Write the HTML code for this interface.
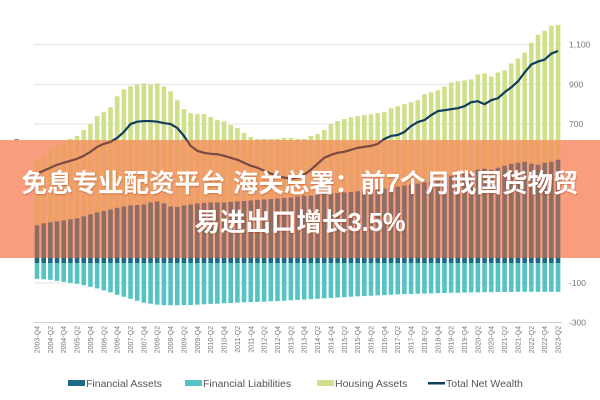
<!DOCTYPE html>
<html><head><meta charset="utf-8"><style>
html,body{margin:0;padding:0;background:#fff;width:600px;height:400px;overflow:hidden}
svg{display:block;font-family:"Liberation Sans","Noto Sans CJK SC",sans-serif}
</style></head><body>
<svg id="chart" width="600" height="400" viewBox="0 0 600 400">
<defs><clipPath id="bandClip"><rect x="0" y="140" width="600" height="118"/></clipPath>
<filter id="sh" x="-5%" y="-20%" width="110%" height="140%"><feDropShadow dx="0.5" dy="1" stdDeviation="0.8" flood-color="#a04020" flood-opacity="0.5"/></filter></defs>
</svg>
<script>
const quarters=[];for(let y=2003,q=4;quarters.length<79;){quarters.push(y+'-Q'+q);q++;if(q>4){q=1;y++;}}
const financialAssets=[190,200,205,210,215,220,225,235,245,255,262,270,278,285,290,292,295,305,310,300,285,283,290,295,300,303,305,305,305,308,310,312,315,318,320,322,325,328,330,335,338,340,345,348,350,352,355,358,362,365,368,370,375,380,385,390,395,400,405,410,420,430,440,450,455,460,470,475,470,480,490,500,505,510,500,495,505,510,520];
const totalAssets=[520,545,570,590,610,625,640,670,700,740,760,785,840,875,890,900,905,900,905,890,865,820,775,755,750,750,735,720,715,695,680,655,635,625,625,625,625,630,630,625,625,640,650,670,700,715,725,735,740,745,750,755,760,780,790,800,810,820,850,860,870,890,910,915,920,925,950,955,940,960,970,1005,1030,1060,1110,1150,1170,1195,1200];
const financialLiabilities=[-80,-82,-85,-90,-95,-100,-105,-112,-120,-128,-138,-148,-160,-170,-180,-190,-200,-205,-210,-212,-213,-213,-212,-212,-210,-208,-206,-205,-203,-202,-200,-198,-197,-196,-195,-193,-192,-190,-188,-186,-184,-182,-180,-178,-176,-174,-172,-170,-168,-166,-165,-163,-162,-160,-158,-157,-156,-155,-154,-153,-152,-151,-150,-150,-149,-148,-148,-147,-147,-146,-146,-146,-145,-145,-145,-145,-145,-145,-145];
const netWealth=[450,465,480,495,505,515,525,540,560,585,600,610,630,660,700,712,715,715,712,705,700,680,640,590,565,555,550,548,540,530,520,505,490,480,465,450,440,430,425,430,445,470,500,530,545,555,560,570,580,585,590,600,625,640,645,660,690,710,720,745,765,770,775,780,790,810,815,800,820,830,860,885,915,960,1000,1015,1025,1055,1068];
const yTicks=[1100,900,700,500,300,100,-100,-300];

const NS='http://www.w3.org/2000/svg';
const svg=document.getElementById('chart');
function mk(tag,attrs,parent){const e=document.createElementNS(NS,tag);for(const k in attrs)e.setAttribute(k,attrs[k]);(parent||svg).appendChild(e);return e;}
const y=v=>263-v*0.1985;
const x=i=>37+i*6.68;
const bw=4.6;

const grid=mk('g',{});


yTicks.forEach(t=>{
  mk('line',{x1:34,x2:562,y1:y(t),y2:y(t),stroke:t===-300?'#cfcfcf':'#e2e2e2','stroke-width':1},grid);
  const tx=mk('text',{x:569,y:y(t)+3,'font-size':8.5,fill:'#777'});
  tx.textContent=t.toLocaleString('en-US');
  
  
});
const yt=mk('text',{x:0,y:0,'font-size':9,fill:'#666',transform:'translate(19,170) rotate(-90)'});
yt.textContent='€ Billion';



function drawSeries(parent,cH,cF,cL,cN){
  quarters.forEach((q,i)=>{
    const h=mk('rect',{x:x(i)-bw/2,y:y(totalAssets[i]),width:bw,height:y(financialAssets[i])-y(totalAssets[i]),fill:cH},parent);
    
    
    const f=mk('rect',{x:x(i)-bw/2,y:y(financialAssets[i]),width:bw,height:y(0)-y(financialAssets[i]),fill:cF},parent);
    
    
    const l=mk('rect',{x:x(i)-bw/2,y:y(0),width:bw,height:y(financialLiabilities[i])-y(0),fill:cL},parent);
    
    
  });
  const line=mk('polyline',{points:netWealth.map((v,i)=>x(i)+','+y(v)).join(' '),fill:'none',stroke:cN,'stroke-width':2.2,'stroke-linejoin':'round'},parent);
  
  
}
const bars=mk('g',{});


drawSeries(bars,'#cfe08b','#1d6a85','#55c3c4','#0f3d5c');

quarters.forEach((q,i)=>{
  if(i%2===0){
    const t=mk('text',{x:0,y:0,'font-size':7,fill:'#777','text-anchor':'end',transform:`translate(${x(i)+2.5},326) rotate(-90)`});
    t.textContent=q;
    
    
  }
});

const leg=[['Financial Assets','#1d6a85',68,'rect'],['Financial Liabilities','#55c3c4',185,'rect'],['Housing Assets','#cfe08b',317,'rect'],['Total Net Wealth','#0f3d5c',428,'line']];
leg.forEach(([n,c,lx,k])=>{
  const g=mk('g',{});
  
  
  if(k==='rect')mk('rect',{x:lx,y:380,width:17,height:6,fill:c},g);
  else mk('rect',{x:lx,y:382,width:17,height:2.5,fill:c},g);
  const t=mk('text',{x:lx+18,y:387,'font-size':10.5,fill:'#555'},g);
  t.textContent=n;
});

// overlay banner (tinted view of the chart inside band)
const band=mk('g',{'clip-path':'url(#bandClip)'});


mk('rect',{x:0,y:140,width:600,height:118,fill:'#f99d7f'},band);
drawSeries(band,'#eba160','#8d6e64','#8d6e64','#7a4a40');
const l1=mk('text',{x:300,y:192,'font-size':25.5,'font-weight':'bold',fill:'#fff','text-anchor':'middle',filter:'url(#sh)'});
l1.textContent='免息专业配资平台 海关总署：前7个月我国货物贸';


const l2=mk('text',{x:300,y:231,'font-size':25.5,'font-weight':'bold',fill:'#fff','text-anchor':'middle',filter:'url(#sh)'});
l2.textContent='易进出口增长3.5%';


</script>
</body></html>
